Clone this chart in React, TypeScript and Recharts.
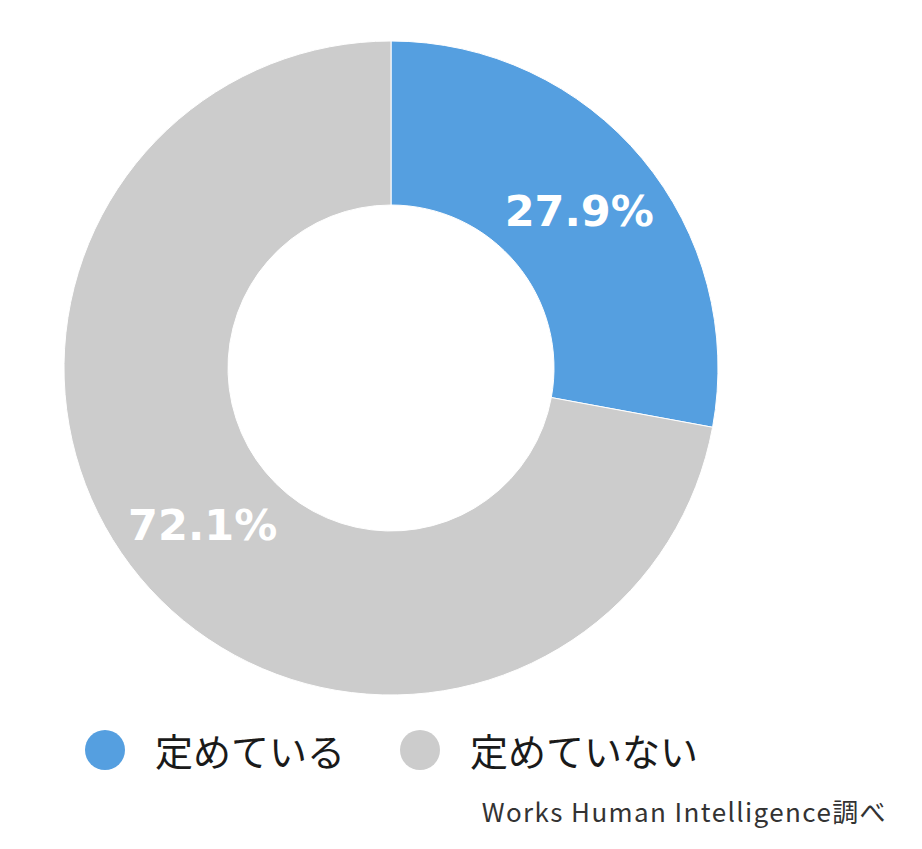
import { PieChart, Pie, Cell } from 'recharts';

const categories = ['定めている', '定めていない'];
const shares = [27.9, 72.1];
const COLORS = ['#559fe0', '#cccccc'];

const chartData = categories.map((name, i) => ({ name, value: shares[i] }));

const RADIAN = Math.PI / 180;

const renderLabel = (props: any) => {
    const { cx, cy, midAngle, innerRadius, outerRadius, value } = props;
    const r = (innerRadius + outerRadius) / 2;
    const x = cx + r * Math.cos(-midAngle * RADIAN);
    const y = cy + r * Math.sin(-midAngle * RADIAN);
    return (
        <text
            x={x}
            y={y}
            fill="#ffffff"
            textAnchor="middle"
            dominantBaseline="central"
            fontFamily="'DejaVu Sans', Verdana, sans-serif"
            fontWeight="bold"
            fontSize={43}
        >
            {`${value.toFixed(1)}%`}
        </text>
    );
};

const LegendRow = () => (
    <div style={{ position: 'absolute', left: 0, top: 720, width: 922, height: 60, fontFamily: "'Noto Sans CJK JP', sans-serif" }}>
        {chartData.map((item, index) => (
            <div
                key={item.name}
                style={{ position: 'absolute', left: index === 0 ? 85 : 400, top: 0, display: 'flex', alignItems: 'center', height: 60 }}
            >
                <span style={{ display: 'inline-block', width: 40, height: 40, borderRadius: '50%', background: COLORS[index] }} />
                <span style={{ marginLeft: 30, fontSize: 38, color: '#1a1a1a', lineHeight: '60px' }}>{item.name}</span>
            </div>
        ))}
    </div>
);

export default function App() {
    return (
        <div style={{ position: 'absolute', left: 0, top: 0, width: 922, height: 849, background: '#ffffff' }}>
            <PieChart width={922} height={849} margin={{ top: 0, right: 0, bottom: 0, left: 0 }}>
                <Pie
                    data={chartData}
                    cx={391}
                    cy={368}
                    innerRadius={163}
                    outerRadius={327}
                    startAngle={90}
                    endAngle={-270}
                    dataKey="value"
                    nameKey="name"
                    stroke="#ffffff"
                    strokeWidth={1}
                    label={renderLabel}
                    labelLine={false}
                    isAnimationActive={false}
                >
                    {chartData.map((_, index) => (
                        <Cell key={`cell-${index}`} fill={COLORS[index % COLORS.length]} />
                    ))}
                </Pie>
            </PieChart>
            <LegendRow />
            <div
                style={{
                    position: 'absolute',
                    right: 35,
                    top: 792,
                    fontFamily: "'Noto Sans CJK JP', sans-serif",
                    fontSize: 26,
                    letterSpacing: 1.4,
                    color: '#333333',
                    whiteSpace: 'nowrap',
                }}
            >
                Works Human Intelligence調べ
            </div>
        </div>
    );
}
